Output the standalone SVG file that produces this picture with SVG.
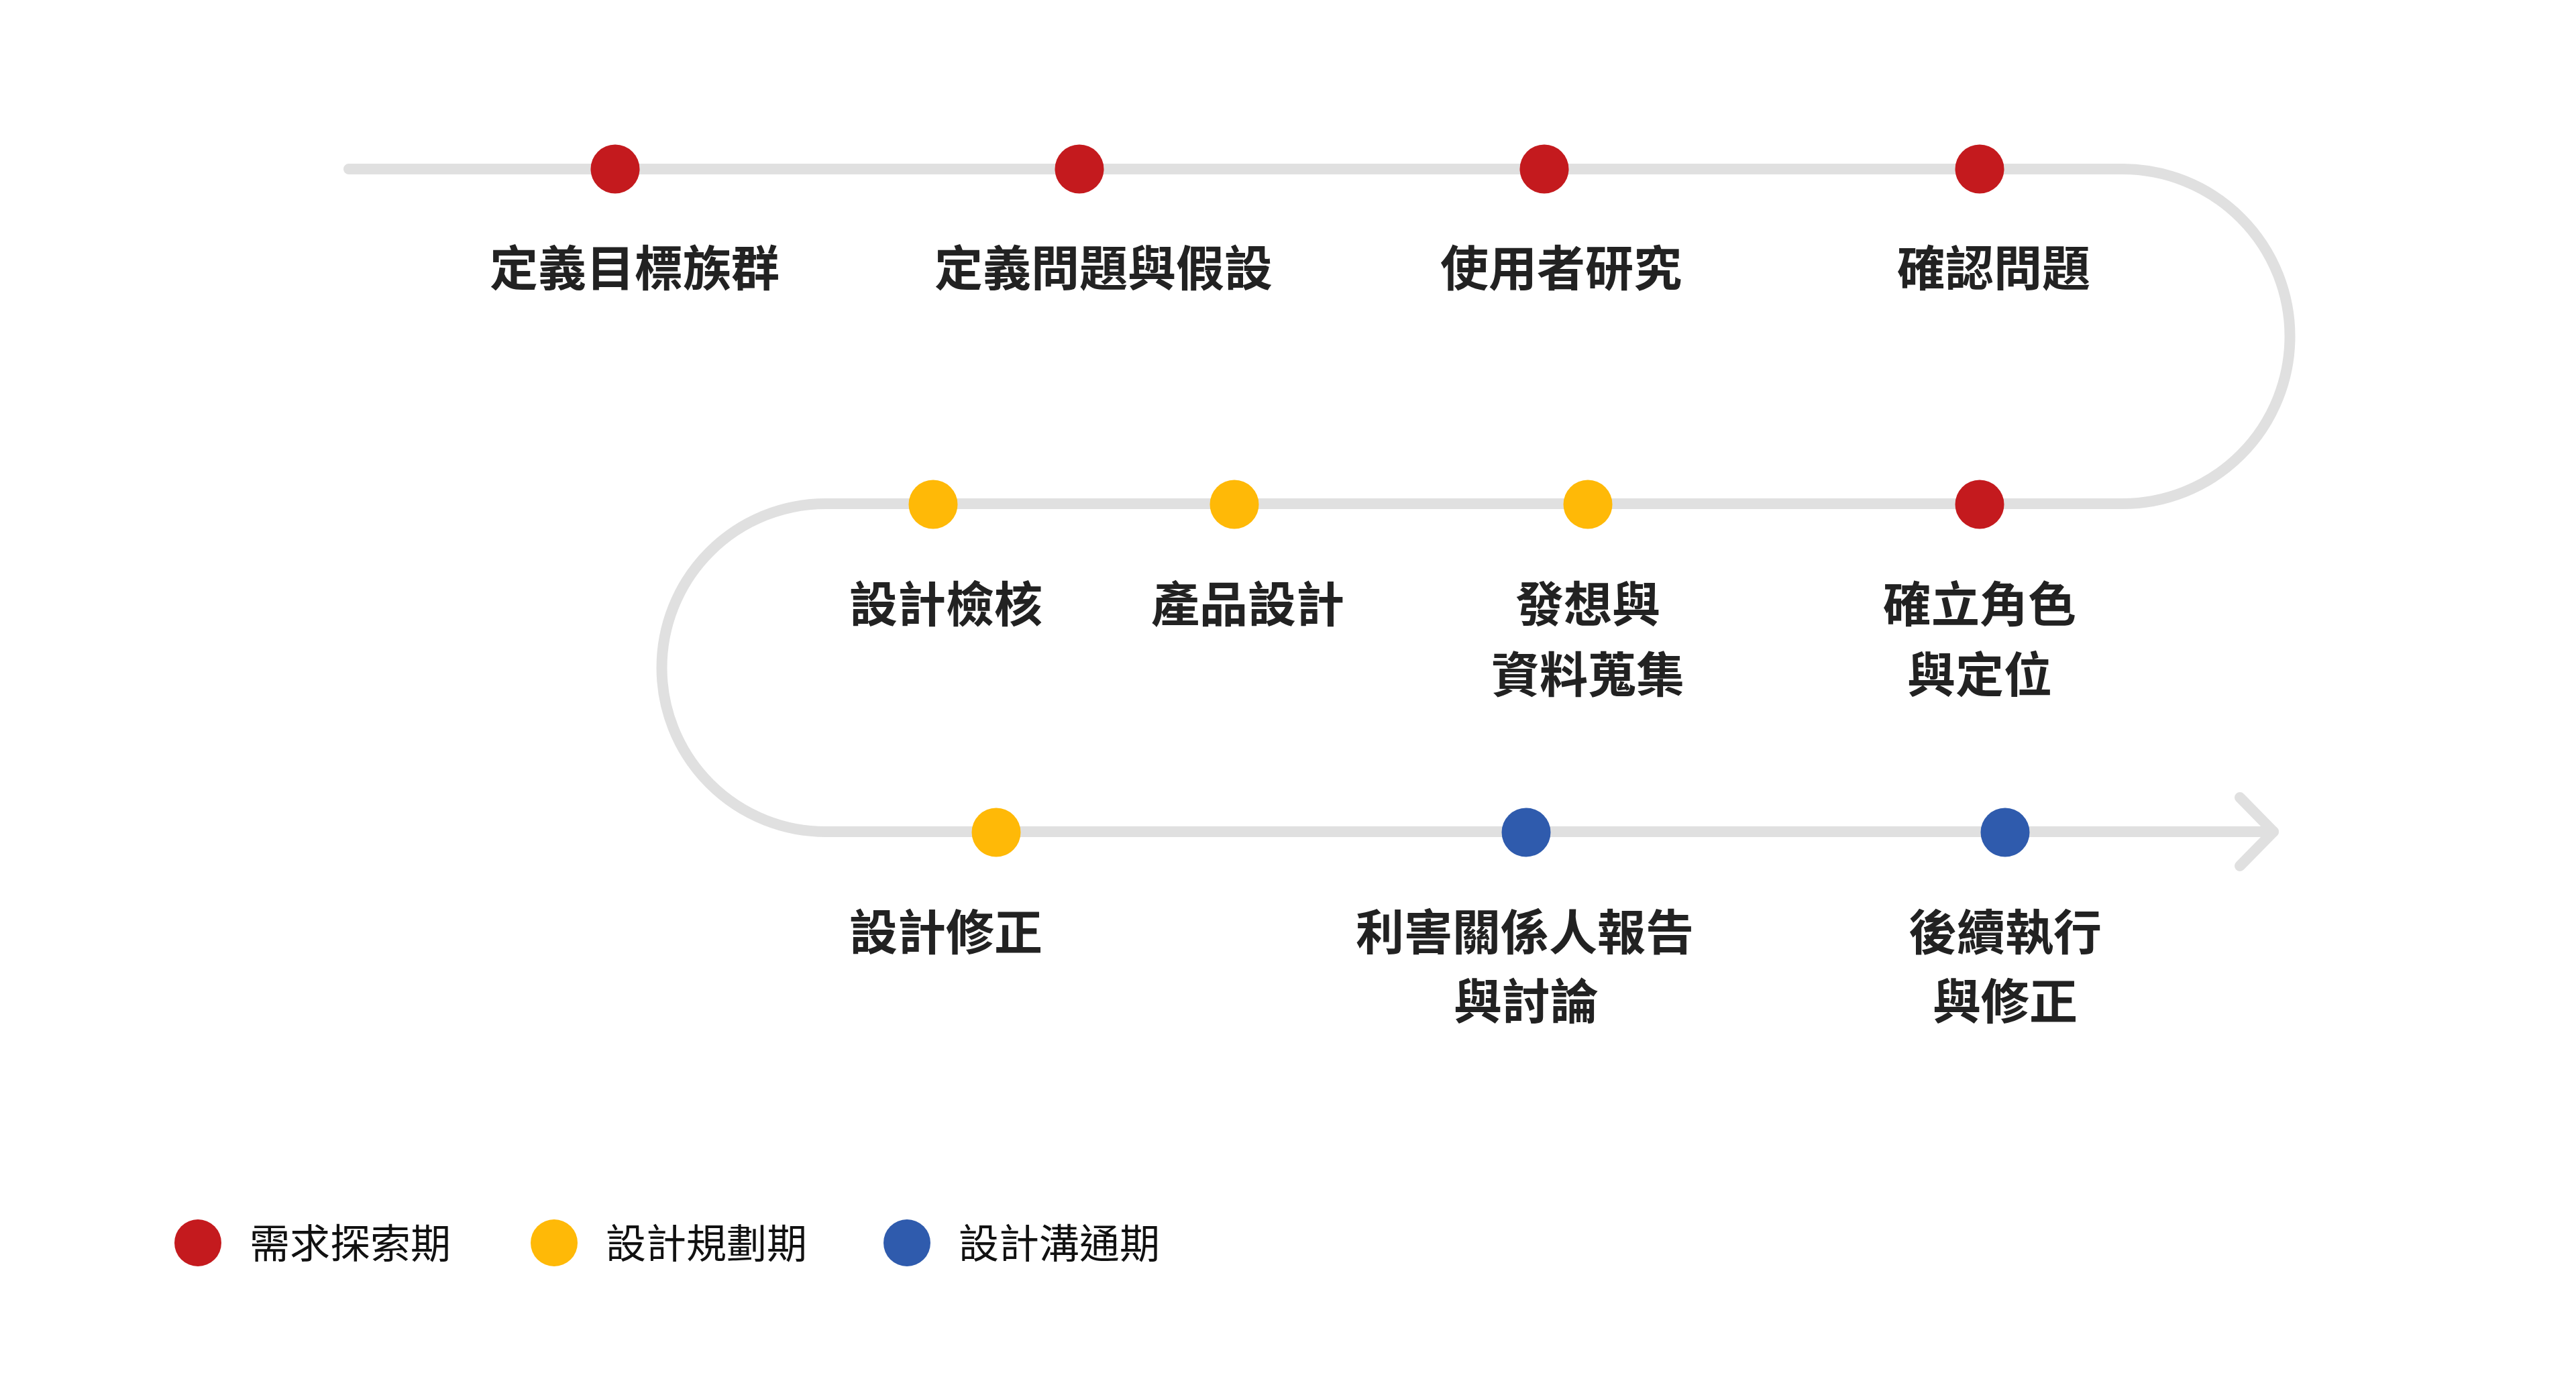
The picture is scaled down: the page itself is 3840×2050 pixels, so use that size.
<svg xmlns="http://www.w3.org/2000/svg" width="3840" height="2050" viewBox="0 0 3840 2050">
<style>
.track{fill:none;stroke:#E0E0E0;stroke-width:16;stroke-linecap:round;stroke-linejoin:round}
.red{fill:#C41A1E}
.yel{fill:#FFB907}
.blu{fill:#2F5BAD}
.lbl{font-family:"Noto Sans CJK TC","Noto Sans CJK SC",sans-serif;font-weight:700;font-size:72px;fill:#222222;text-anchor:middle}
.leg{font-family:"Noto Sans CJK TC","Noto Sans CJK SC",sans-serif;font-weight:400;font-size:60px;fill:#111111}
</style>
<rect width="3840" height="2050" fill="#FFFFFF"/>
<g id="connectors">
<path class="track" d="M520 252 H3164 A249.5 249.5 0 0 1 3164 751 H1231 A244.5 244.5 0 0 0 1231 1240 H3389"/>
<path class="track" d="M3339 1189 L3389 1240 L3339 1291"/>
</g>
<g id="n1"><circle class="red" cx="917" cy="252" r="36.5"/><text class="lbl" x="946" y="426">定義目標族群</text></g>
<g id="n2"><circle class="red" cx="1609" cy="252" r="36.5"/><text class="lbl" x="1645" y="426">定義問題與假設</text></g>
<g id="n3"><circle class="red" cx="2302" cy="252" r="36.5"/><text class="lbl" x="2327" y="426">使用者研究</text></g>
<g id="n4"><circle class="red" cx="2951" cy="252" r="36.5"/><text class="lbl" x="2972" y="426">確認問題</text></g>
<g id="n5"><circle class="red" cx="2951" cy="752" r="36.5"/><text class="lbl" x="2951" y="927">確立角色</text><text class="lbl" x="2951" y="1032">與定位</text></g>
<g id="n6"><circle class="yel" cx="2367" cy="752" r="36.5"/><text class="lbl" x="2367" y="927">發想與</text><text class="lbl" x="2367" y="1032">資料蒐集</text></g>
<g id="n7"><circle class="yel" cx="1840" cy="752" r="36.5"/><text class="lbl" x="1860" y="927">產品設計</text></g>
<g id="n8"><circle class="yel" cx="1391" cy="752" r="36.5"/><text class="lbl" x="1410" y="927">設計檢核</text></g>
<g id="n9"><circle class="yel" cx="1485" cy="1241" r="36.5"/><text class="lbl" x="1410" y="1416">設計修正</text></g>
<g id="n10"><circle class="blu" cx="2275" cy="1241" r="36.5"/><text class="lbl" x="2273" y="1416">利害關係人報告</text><text class="lbl" x="2275" y="1519">與討論</text></g>
<g id="n11"><circle class="blu" cx="2989" cy="1241" r="36.5"/><text class="lbl" x="2989" y="1416">後續執行</text><text class="lbl" x="2989" y="1519">與修正</text></g>
<g id="legend">
<circle class="red" cx="295" cy="1853" r="35"/><text class="leg" x="372" y="1876">需求探索期</text>
<circle class="yel" cx="826" cy="1853" r="35"/><text class="leg" x="903" y="1876">設計規劃期</text>
<circle class="blu" cx="1352" cy="1853" r="35"/><text class="leg" x="1429" y="1876">設計溝通期</text>
</g>
</svg>
